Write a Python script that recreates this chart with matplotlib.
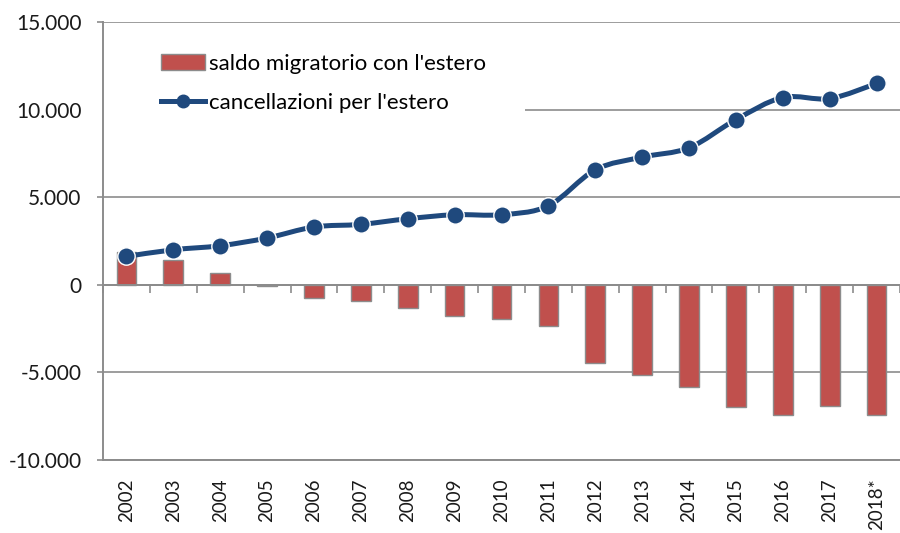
import matplotlib
matplotlib.use("Agg")
import matplotlib.pyplot as plt
import numpy as np
from matplotlib.path import Path
from matplotlib.patches import PathPatch, Rectangle, Patch
from matplotlib.lines import Line2D
from matplotlib.ticker import FuncFormatter, FixedLocator

plt.rcParams['font.family'] = ['Lato', 'DejaVu Sans']

years = ["2002", "2003", "2004", "2005", "2006", "2007", "2008", "2009", "2010",
         "2011", "2012", "2013", "2014", "2015", "2016", "2017", "2018*"]
saldo = [1870, 1390, 670, -90, -760, -950, -1330, -1770, -1960,
         -2330, -4470, -5140, -5840, -6960, -7420, -6890, -7420]
cancellazioni = [1620, 2000, 2230, 2670, 3300, 3450, 3770, 4000, 4000,
                 4510, 6560, 7290, 7820, 9430, 10690, 10630, 11490]
label_bar = "saldo migratorio con l'estero"
label_line = "cancellazioni per l'estero"

bar_color = "#C0504D"
line_color = "#1F497D"
grid_color = "#8C8C8C"

W, H = 900, 533
L, R, T, B = 103, 900, 22, 460
fig = plt.figure(figsize=(W/100, H/100), dpi=100)
ax = fig.add_axes([L/W, 1 - B/H, (R - L)/W, (B - T)/H])

x = np.arange(len(years))
ax.bar(x, saldo, width=0.42, color=bar_color, edgecolor="#8C8C8C", linewidth=1.0, zorder=3)

# smoothed line (Catmull-Rom style Bezier, as Excel's smoothed line)
pts = np.column_stack([x, cancellazioni]).astype(float)
verts = [tuple(pts[0])]
codes = [Path.MOVETO]
t = 1/6
for i in range(len(pts) - 1):
    p0 = pts[i - 1] if i > 0 else pts[i]
    p1 = pts[i]
    p2 = pts[i + 1]
    p3 = pts[i + 2] if i + 2 < len(pts) else pts[i + 1]
    c1 = p1 + (p2 - p0) * t
    c2 = p2 - (p3 - p1) * t
    verts += [tuple(c1), tuple(c2), tuple(p2)]
    codes += [Path.CURVE4] * 3
ax.add_patch(PathPatch(Path(verts, codes), facecolor="none", edgecolor=line_color,
                       linewidth=3.6, zorder=4, capstyle="round", joinstyle="round"))
ax.plot(x, cancellazioni, linestyle="none", marker="o", markersize=12.5,
        markerfacecolor=line_color, markeredgecolor="white", markeredgewidth=1.0, zorder=5)

ax.set_xlim(-0.5, len(years) - 0.5)
ax.set_ylim(-10000, 15000)

# y axis
ax.yaxis.set_major_locator(FixedLocator([-10000, -5000, 0, 5000, 10000, 15000]))
ax.yaxis.set_major_formatter(FuncFormatter(lambda v, p: f"{int(v):,}".replace(",", ".")))
ax.tick_params(axis="y", length=4.5, width=1.2, color=grid_color, labelsize=15,
               labelcolor="#1a1a1a", pad=11)
ax.yaxis.grid(True, color=grid_color, linewidth=1.2, zorder=0)
ax.set_axisbelow(True)

# x axis: labels at the bottom, zero line with category separators
ax.set_xticks(x)
ax.set_xticklabels(years)
ax.tick_params(axis="x", which="major", length=0, labelsize=13.5, labelcolor="#1a1a1a",
               pad=13, labelrotation=90)
ax.set_xticks(np.arange(len(years) + 1) - 0.5, minor=True)
ax.tick_params(axis="x", which="minor", top=True, bottom=False, direction="in",
               length=6, width=1.2, color=grid_color)
ax.spines["top"].set_position(("data", 0))
ax.spines["top"].set_zorder(3.5)
for s in ["top", "left", "bottom"]:
    ax.spines[s].set_color(grid_color)
    ax.spines[s].set_linewidth(1.4)
ax.spines["right"].set_visible(False)

# legend
pw, ph = R - L, B - T
ax.add_patch(Rectangle((-0.02, 1 - 100/ph), (525 - L)/pw + 0.02, 88/ph, transform=ax.transAxes,
                       facecolor="white", edgecolor="none", zorder=1.5, clip_on=False))
handles = [Patch(facecolor=bar_color, edgecolor="#8C8C8C", linewidth=1.0),
           Line2D([0], [0], color=line_color, linewidth=3.6, marker="o", markersize=9,
                  markerfacecolor=line_color, markeredgecolor=line_color)]
leg = ax.legend(handles, [label_bar, label_line], loc="upper left",
                bbox_to_anchor=(58/pw, 1 - 32/ph), frameon=False, fontsize=16,
                handlelength=2.0, handleheight=0.7, handletextpad=0.15,
                labelspacing=0.85, borderaxespad=0, borderpad=0)
leg.set_zorder(6)

fig.savefig("out.png", dpi=100)
